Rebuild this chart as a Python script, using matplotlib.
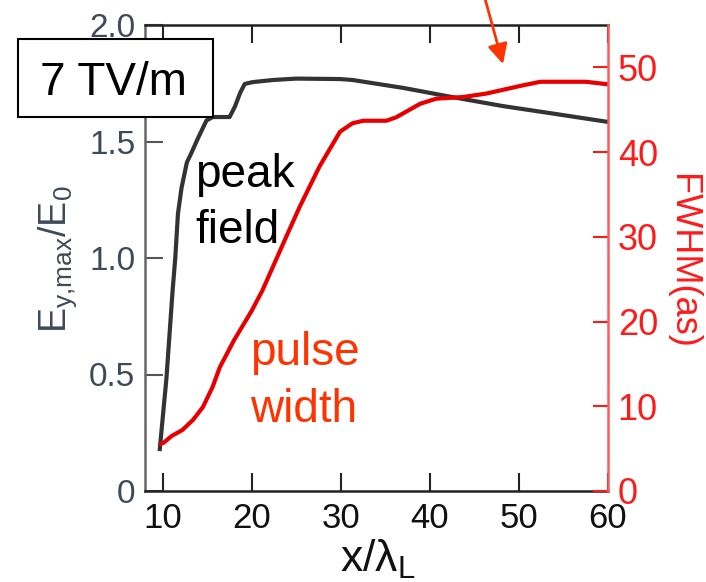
import matplotlib
matplotlib.use("Agg")
import matplotlib.pyplot as plt
from matplotlib.patches import Rectangle

plt.rcParams['font.family'] = ['Liberation Sans', 'DejaVu Sans']
plt.rcParams['mathtext.default'] = 'regular'

# peak field (left axis)
x_field = [9.66, 10.4, 11.1, 11.4, 11.7, 12.1, 12.7, 13.2, 13.9, 14.4, 14.9, 15.6,
           17.5, 18.1, 18.7, 19.2, 20.1, 22.4, 25.0, 29.9, 31.3, 37.0, 42.6, 48.2,
           53.8, 60.0]
peak_field = [0.18, 0.48, 0.86, 1.00, 1.19, 1.30, 1.41, 1.45, 1.51, 1.55, 1.59, 1.605,
              1.605, 1.65, 1.71, 1.747, 1.755, 1.764, 1.77, 1.768, 1.764, 1.73, 1.69, 1.652,
              1.62, 1.584]

# pulse width FWHM (right axis, as)
x_width = [9.8, 10.1, 11.0, 12.2, 13.4, 14.5, 15.6, 16.4, 18.0, 20.0, 21.2, 23.9, 25.4,
           27.6, 29.9, 31.3, 32.5, 35.1, 36.2, 38.9, 40.7, 43.7, 46.3, 50.1, 52.4, 57.5, 60.0]
pulse_width = [5.6, 5.7, 6.5, 7.2, 8.4, 9.9, 12.3, 14.6, 17.8, 21.3, 23.7, 30.1, 33.6,
               38.3, 42.4, 43.4, 43.7, 43.7, 44.1, 45.7, 46.3, 46.5, 46.9, 47.8, 48.3, 48.3, 48.0]

x_ticks = [10, 20, 30, 40, 50, 60]
left_ticks = [0, 0.5, 1.0, 1.5, 2.0]
left_labels = ["0", "0.5", "1.0", "1.5", "2.0"]
right_ticks = [0, 10, 20, 30, 40, 50]

W, H = 706, 582
fig = plt.figure(figsize=(W / 100, H / 100), dpi=100)


def fx(px):
    return px / W


def fy(py):
    return 1 - py / H


ax = fig.add_axes([fx(145), fy(491), fx(608) - fx(145), fy(25) - fy(491)])
ax2 = ax.twinx()

ax.plot(x_field, peak_field, color='#333333', lw=3)
ax2.plot(x_width, pulse_width, color='#e80000', lw=3)

ax.set_xlim(8, 60)
ax.set_ylim(0, 2.0)
ax2.set_ylim(0, 55)

gray = '#3f4a58'
red = '#ff1a1a'

ax.set_xticks(x_ticks)
ax.set_xticklabels([str(t) for t in x_ticks], fontsize=25, color='#111111')
ax.set_yticks(left_ticks)
ax.set_yticklabels(left_labels, fontsize=24, color=gray)
ax.tick_params(axis='x', direction='in', length=13, width=1.5, pad=8, top=True,
               color='#222222')
ax.tick_params(axis='y', direction='in', length=13, width=1.5, pad=7, right=False,
               color='#555555')

ax2.set_yticks(right_ticks)
ax2.set_yticklabels([str(t) for t in right_ticks], fontsize=26, color=red)
ax2.tick_params(axis='y', direction='in', length=11, width=1.5, pad=7, color=red)

for name in ['top', 'bottom']:
    ax.spines[name].set_color('#222222')
    ax.spines[name].set_linewidth(1.8)
ax.spines['left'].set_color('#666666')
ax.spines['left'].set_linewidth(1.8)
ax.spines['right'].set_visible(False)
for name in ['top', 'bottom', 'left']:
    ax2.spines[name].set_visible(False)
ax2.spines['right'].set_color('#ff5a5a')
ax2.spines['right'].set_linewidth(1.8)

# axis labels
fig.text(fx(378), fy(572), r'x/$\mathregular{λ_L}$', fontsize=32, ha='center',
         va='baseline', color='#111111')
fig.text(fx(58), fy(259), r'E$_{y{,}max}$/E$_0$', fontsize=27, rotation=90,
         ha='center', va='center', color=gray)
fig.text(fx(682), fy(261), 'FWHM(as)', fontsize=26, rotation=270,
         ha='center', va='center', color=red)

# annotations
ax.text(fx(195), fy(187), 'peak', transform=fig.transFigure, fontsize=33,
        color='black', va='baseline')
ax.text(fx(195), fy(243), 'field', transform=fig.transFigure, fontsize=33,
        color='black', va='baseline')
ax.text(fx(250), fy(365), 'pulse', transform=fig.transFigure, fontsize=33,
        color='#ff3300', va='baseline')
ax.text(fx(250), fy(422), 'width', transform=fig.transFigure, fontsize=33,
        color='#ff3300', va='baseline')

box = Rectangle((fx(18), fy(117)), fx(213) - fx(18), fy(39) - fy(117),
                transform=fig.transFigure, facecolor='white', edgecolor='black',
                lw=1.5, zorder=5)
fig.add_artist(box)
fig.text(fx(40), fy(95), '7 TV/m', fontsize=33, va='baseline', zorder=6)

ax.annotate('', xy=(fx(503), fy(64)), xycoords='figure fraction',
            xytext=(fx(484), fy(-5)), textcoords='figure fraction',
            arrowprops=dict(arrowstyle='-|>', color='#ff3300', lw=2,
                            mutation_scale=30, shrinkA=0, shrinkB=0),
            annotation_clip=False)

fig.savefig('out.png', dpi=100)
